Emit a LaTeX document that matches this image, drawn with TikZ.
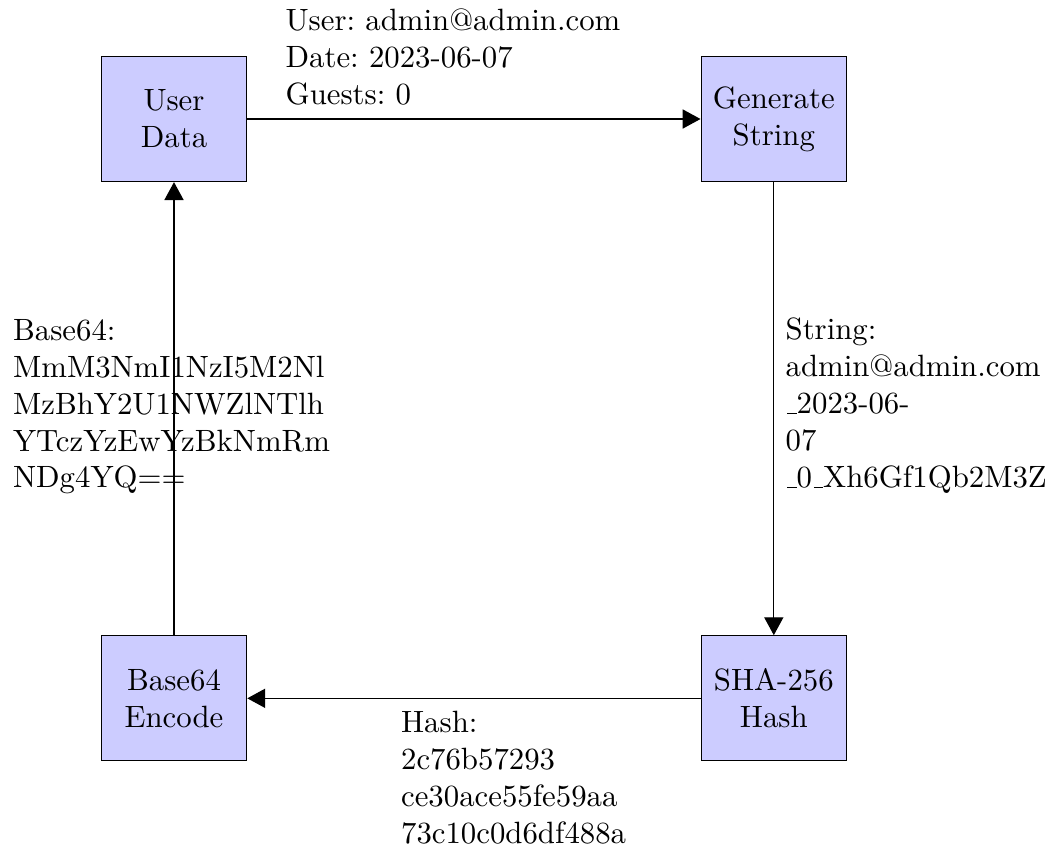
\documentclass[tikz,border=0pt]{standalone}
\usetikzlibrary{arrows.meta}
\newcommand{\lowbar}{\leavevmode\kern.06em\vbox{\hrule width.3em}}
\frenchspacing
\begin{document}
\begin{tikzpicture}[x=0.3247pt,y=-0.3247pt,
  procbox/.style={draw=black, line width=0.4pt, fill=blue!20, rectangle,
    minimum width=47.2pt, minimum height=40.6pt, align=center, inner sep=2pt},
  flowarrow/.style={draw=black, line width=0.4pt, -{Triangle[length=5.8pt,width=6.2pt]}},
  lbl/.style={inner sep=0pt, align=left, anchor=north west}]
\useasboundingbox (0,0) rectangle (1051,852);
\node[procbox] (ud) at (174,119) {User\\Data};
\node[procbox] (gs) at (773.8,119) {Generate\\String};
\node[procbox] (sha) at (773.8,698.3) {SHA-256\\Hash};
\node[procbox] (b64) at (174,698.3) {Base64\\Encode};
\draw[flowarrow] (ud) -- (gs);
\draw[flowarrow] (gs) -- (sha);
\draw[flowarrow] (sha) -- (b64);
\draw[flowarrow] (b64) -- (ud);
\node[lbl] (ltop) at (285,7.9) {\frenchspacing User: admin@admin.com\\Date: 2023-06-07\\Guests: 0};
\node[lbl] (lright) at (785,317.6) {String:\\admin@admin.com\\\lowbar2023-06-\\07\\\lowbar0\lowbar Xh6Gf1Qb2M3Z};
\node[lbl] (lleft) at (12.5,318.5) {Base64:\\MmM3NmI1NzI5M2Nl\\MzBhY2U1NWZlNTlh\\YTczYzEwYzBkNmRm\\NDg4YQ==};
\node[lbl] (lbottom) at (400.5,710.3) {Hash:\\2c76b57293\\ce30ace55fe59aa\\73c10c0d6df488a};
\end{tikzpicture}
\end{document}
